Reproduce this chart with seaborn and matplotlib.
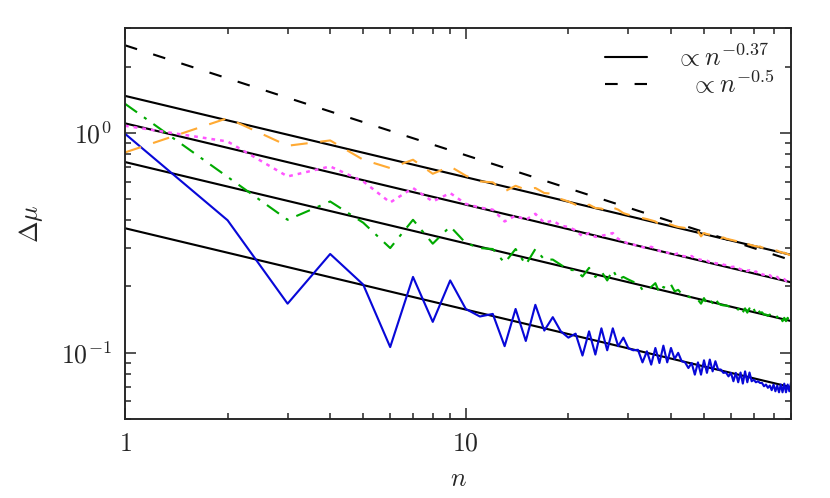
import numpy as np
import pandas as pd
import matplotlib
matplotlib.use("Agg")
import matplotlib.pyplot as plt
import seaborn as sns
from matplotlib.ticker import FixedLocator, FixedFormatter, NullFormatter, LogLocator

# data: n = 1..90
n = list(range(1, 91))

blue = [0.99, 0.40, 0.167, 0.281, 0.204, 0.106, 0.221, 0.138, 0.213, 0.158,
        0.146, 0.150, 0.107, 0.158, 0.113, 0.165, 0.126, 0.145, 0.125, 0.117,
        0.122, 0.097, 0.125, 0.098, 0.129, 0.1025, 0.129, 0.107, 0.117, 0.1047,
        0.1025, 0.103, 0.0903, 0.1014, 0.0882, 0.105, 0.0897, 0.1076, 0.0903, 0.105,
        0.0937, 0.0998, 0.0914, 0.0903, 0.0851, 0.0897, 0.0794, 0.0903, 0.0794, 0.0923,
        0.0809, 0.093, 0.0822, 0.0914, 0.0838, 0.0838, 0.0809, 0.0812, 0.078, 0.0809,
        0.0741, 0.0809, 0.0733, 0.0812, 0.0723, 0.0822, 0.0733, 0.0812, 0.0741, 0.0753,
        0.0733, 0.0741, 0.0728, 0.0728, 0.0703, 0.0716, 0.0692, 0.0708, 0.0675, 0.0716,
        0.0667, 0.0708, 0.066, 0.0716, 0.066, 0.0723, 0.066, 0.0716, 0.0667, 0.0728]

green = [1.355, 0.63, 0.402, 0.487, 0.39, 0.299, 0.402, 0.313, 0.375, 0.315,
         0.299, 0.296, 0.256, 0.296, 0.251, 0.296, 0.265, 0.265, 0.251, 0.238,
         0.237, 0.222, 0.243, 0.221, 0.234, 0.213, 0.238, 0.215, 0.221, 0.215,
         0.210, 0.207, 0.193, 0.193, 0.199, 0.207, 0.187, 0.199, 0.195, 0.204,
         0.190, 0.193, 0.185, 0.184, 0.180, 0.177, 0.176, 0.174, 0.167, 0.177,
         0.167, 0.174, 0.168, 0.177, 0.168, 0.165, 0.164, 0.164, 0.1625, 0.162,
         0.158, 0.159, 0.157, 0.162, 0.1525, 0.159, 0.152, 0.159, 0.152, 0.158,
         0.150, 0.157, 0.152, 0.1525, 0.149, 0.149, 0.147, 0.149, 0.146, 0.145,
         0.142, 0.146, 0.140, 0.145, 0.139, 0.144, 0.139, 0.144, 0.140, 0.142]

magenta = [1.076, 0.913, 0.633, 0.703, 0.601, 0.482, 0.561, 0.487, 0.532, 0.475,
           0.457, 0.447, 0.395, 0.420, 0.402, 0.428, 0.389, 0.399, 0.378, 0.373,
           0.360, 0.338, 0.350, 0.336, 0.340, 0.344, 0.350, 0.329, 0.321, 0.313,
           0.310, 0.306, 0.302, 0.299, 0.303, 0.297, 0.290, 0.289, 0.285, 0.282,
           0.280, 0.283, 0.276, 0.274, 0.271, 0.275, 0.268, 0.267, 0.264, 0.266,
           0.262, 0.258, 0.260, 0.255, 0.254, 0.256, 0.251, 0.250, 0.247, 0.245,
           0.246, 0.242, 0.243, 0.239, 0.238, 0.240, 0.235, 0.237, 0.233, 0.232,
           0.234, 0.229, 0.231, 0.227, 0.226, 0.228, 0.224, 0.225, 0.221, 0.222,
           0.219, 0.221, 0.217, 0.218, 0.215, 0.216, 0.212, 0.214, 0.210, 0.211]

orange = [0.814, 1.166, 0.873, 0.923, 0.754, 0.691, 0.754, 0.651, 0.703, 0.638,
          0.601, 0.595, 0.541, 0.574, 0.551, 0.561, 0.532, 0.528, 0.500, 0.487,
          0.471, 0.455, 0.471, 0.455, 0.452, 0.439, 0.457, 0.447, 0.431, 0.424,
          0.419, 0.414, 0.409, 0.405, 0.400, 0.395, 0.382, 0.392, 0.386, 0.382,
          0.377, 0.373, 0.371, 0.369, 0.365, 0.362, 0.359, 0.356, 0.338, 0.350,
          0.346, 0.344, 0.342, 0.340, 0.344, 0.332, 0.334, 0.330, 0.328, 0.326,
          0.324, 0.322, 0.320, 0.318, 0.315, 0.306, 0.312, 0.310, 0.308, 0.306,
          0.305, 0.303, 0.304, 0.300, 0.302, 0.298, 0.297, 0.295, 0.296, 0.294,
          0.292, 0.291, 0.288, 0.287, 0.284, 0.285, 0.282, 0.281, 0.278, 0.279]

# power-law guides
fit_amps = [0.368, 0.736, 1.104, 1.472]
fit_exp = -0.37
ref_amp = 2.5
ref_exp = -0.5

sns.set_style("ticks")
plt.rcParams['font.family'] = 'serif'
plt.rcParams['font.serif'] = ['cmr10', 'DejaVu Serif']
plt.rcParams['mathtext.fontset'] = 'cm'
plt.rcParams['axes.formatter.use_mathtext'] = True
plt.rcParams['font.size'] = 13.5

fig, ax = plt.subplots(figsize=(6, 3.6), dpi=830 / 6)
fig.subplots_adjust(left=0.1506, right=0.953, top=0.944, bottom=0.159)

nn = np.array(n, dtype=float)
for a in fit_amps:
    sns.lineplot(x=nn, y=a * nn ** fit_exp, ax=ax, color="black", lw=1.1)
solid_handle = ax.lines[-1]
sns.lineplot(x=nn, y=ref_amp * nn ** ref_exp, ax=ax, color="black", lw=1.1)
dashed_handle = ax.lines[-1]
dashed_handle.set_dashes((6, 8))

df = pd.DataFrame({"n": n, "blue": blue, "green": green, "magenta": magenta, "orange": orange})
sns.lineplot(data=df, x="n", y="blue", ax=ax, color="#0808d8", lw=1.1)
sns.lineplot(data=df, x="n", y="green", ax=ax, color="#00aa00", lw=1.1)
ax.lines[-1].set_dashes((7, 4, 1.5, 4))
sns.lineplot(data=df, x="n", y="magenta", ax=ax, color="#ff55ff", lw=1.3)
ax.lines[-1].set_dashes((1.5, 2.0))
sns.lineplot(data=df, x="n", y="orange", ax=ax, color="#ffaa33", lw=1.1)
ax.lines[-1].set_dashes((8, 6))

ax.set_xscale("log")
ax.set_yscale("log")
ax.set_xlim(1, 90)
ax.set_ylim(0.05, 3.0)

ax.xaxis.set_major_locator(FixedLocator([1, 10]))
ax.xaxis.set_major_formatter(FixedFormatter([r"$1$", r"$10$"]))
ax.xaxis.set_minor_locator(LogLocator(base=10, subs=np.arange(2, 10), numticks=20))
ax.xaxis.set_minor_formatter(NullFormatter())
ax.yaxis.set_minor_formatter(NullFormatter())

ax.tick_params(which="both", direction="in", top=True, right=True, width=0.8)
ax.tick_params(which="major", length=5.7, pad=7)
ax.tick_params(which="minor", length=3.0)
for s in ax.spines.values():
    s.set_linewidth(1.0)

ax.set_xlabel(r"$n$", labelpad=6)
ax.set_ylabel(r"$\Delta\mu$", labelpad=8)

ax.legend([solid_handle, dashed_handle],
          [r"$\propto n^{-0.37}$", r"$\ \ \propto n^{-0.5}$"],
          loc="upper right", frameon=False, handlelength=1.6,
          handletextpad=1.1, labelspacing=0.0, borderaxespad=0.2, fontsize=13.5)

fig.savefig("out.png", dpi=830 / 6)
